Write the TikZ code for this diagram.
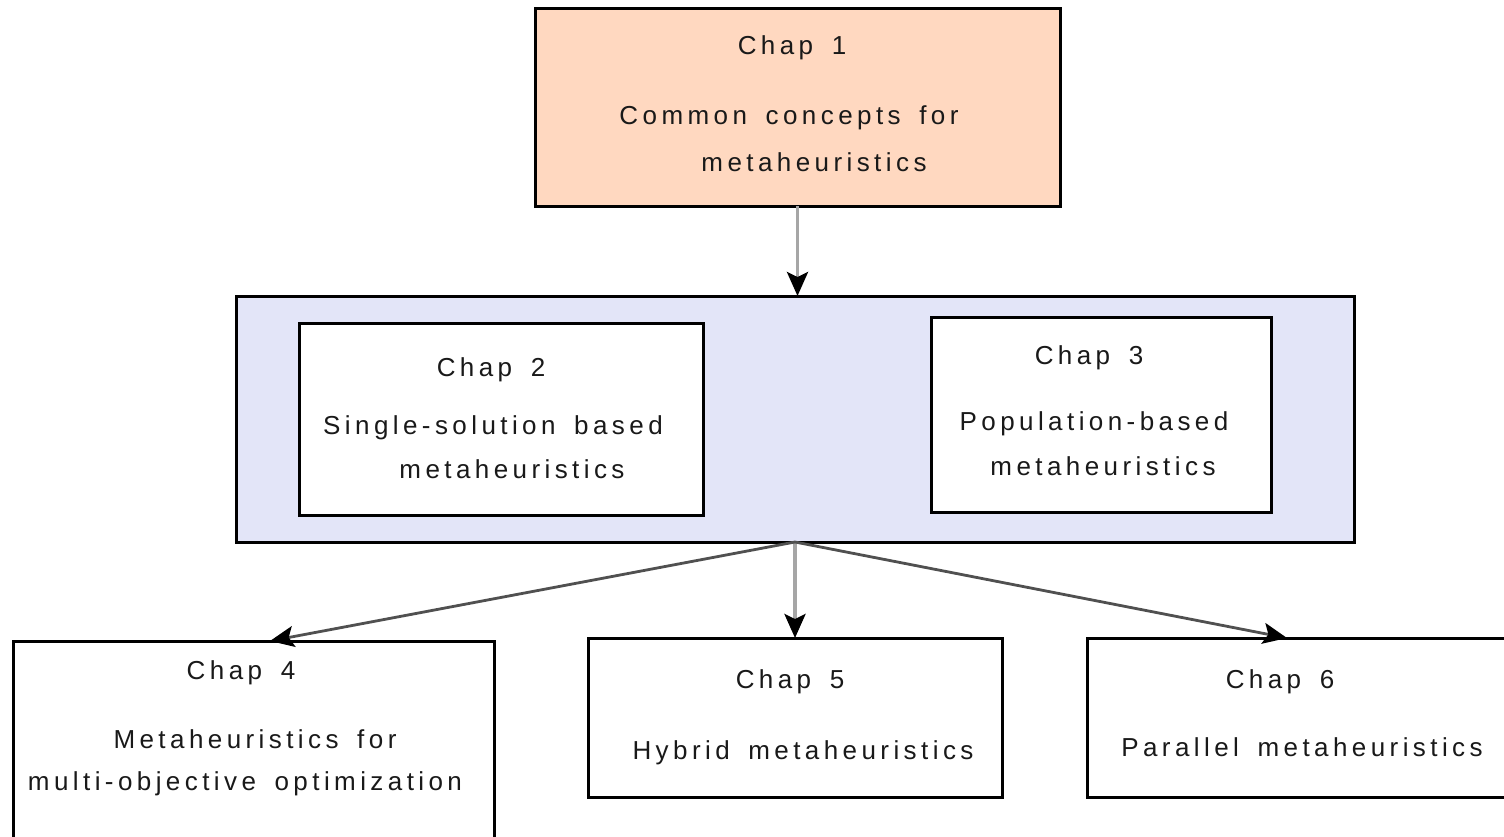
\documentclass[tikz,border=0pt]{standalone}
\usepackage{fontspec}
\usetikzlibrary{arrows.meta,calc}
\newfontfamily\lblfont[LetterSpace=17,WordSpace=1.6]{Liberation Sans}
\definecolor{peach}{HTML}{FFD8C0}
\definecolor{lavender}{HTML}{E3E5F8}
\definecolor{linkgray}{HTML}{A6A6A6}
\definecolor{diaggray}{HTML}{505050}
\tikzset{
  box/.style={draw=black, line width=1.5pt, rectangle, inner sep=0pt, outer sep=0pt},
  txt/.style={font=\lblfont\fontsize{13}{15}\selectfont, inner sep=0pt, text=black!90},
  link/.style={draw=linkgray, line width=1.8pt,
    -{Stealth[length=12pt, width=10.5pt, inset=2.5pt, color=black]}},
  slant/.style={link, draw=diaggray, line width=1.4pt},
}
\begin{document}
\begin{tikzpicture}[x=0.5pt, y=-0.5pt]
  \useasboundingbox (0,0) rectangle (1504,836);
  \clip (0,0) rectangle (1504,836);

  % chapter boxes
  \node[box, fill=peach, minimum width=262.5pt, minimum height=99pt] (c1) at (797.5,107) {};
  \node[box, fill=lavender, minimum width=559pt, minimum height=123pt] (mid) at (795,419) {};
  \node[box, fill=white, minimum width=202pt, minimum height=96pt] (c2) at (501,419) {};
  \node[box, fill=white, minimum width=170pt, minimum height=97.5pt] (c3) at (1101,414.5) {};
  \node[box, fill=white, minimum width=240.5pt, minimum height=104pt] (c4) at (253.5,745) {};
  \node[box, fill=white, minimum width=207pt, minimum height=79.5pt] (c5) at (795,717.5) {};
  \node[box, fill=white, minimum width=218pt, minimum height=79.5pt] (c6) at (1305,717.5) {};

  % labels
  \node[txt] (c1t) at (792,48) {Chap 1};
  \node[txt] (c1a) at (789,118) {Common concepts for};
  \node[txt] (c1b) at (814,162) {metaheuristics};

  \node[txt] (c2t) at (491,370) {Chap 2};
  \node[txt] (c2a) at (493,428) {Single-solution based};
  \node[txt] (c2b) at (512,469) {metaheuristics};

  \node[txt] (c3t) at (1089,358) {Chap 3};
  \node[txt] (c3a) at (1094,424) {Population-based};
  \node[txt] (c3b) at (1103,466) {metaheuristics};

  \node[txt] (c4t) at (241,673) {Chap 4};
  \node[txt] (c4a) at (255,739) {Metaheuristics for};
  \node[txt] (c4b) at (245,784) {multi-objective optimization};

  \node[txt] (c5t) at (790,682) {Chap 5};
  \node[txt] (c5a) at (803,753) {Hybrid metaheuristics};

  \node[txt] (c6t) at (1280,682) {Chap 6};
  \node[txt] (c6a) at (1302,747) {Parallel metaheuristics};

  % connectors
  \draw[link] (c1.south) -- (c1.south |- mid.north);
  \draw[link] (mid.south) -- (mid.south |- c5.north);
  \draw[slant] (mid.south) -- ([xshift=128.5pt]c4.north west);
  \draw[slant] (mid.south) -- ([xshift=100pt]c6.north west);
\end{tikzpicture}
\end{document}
